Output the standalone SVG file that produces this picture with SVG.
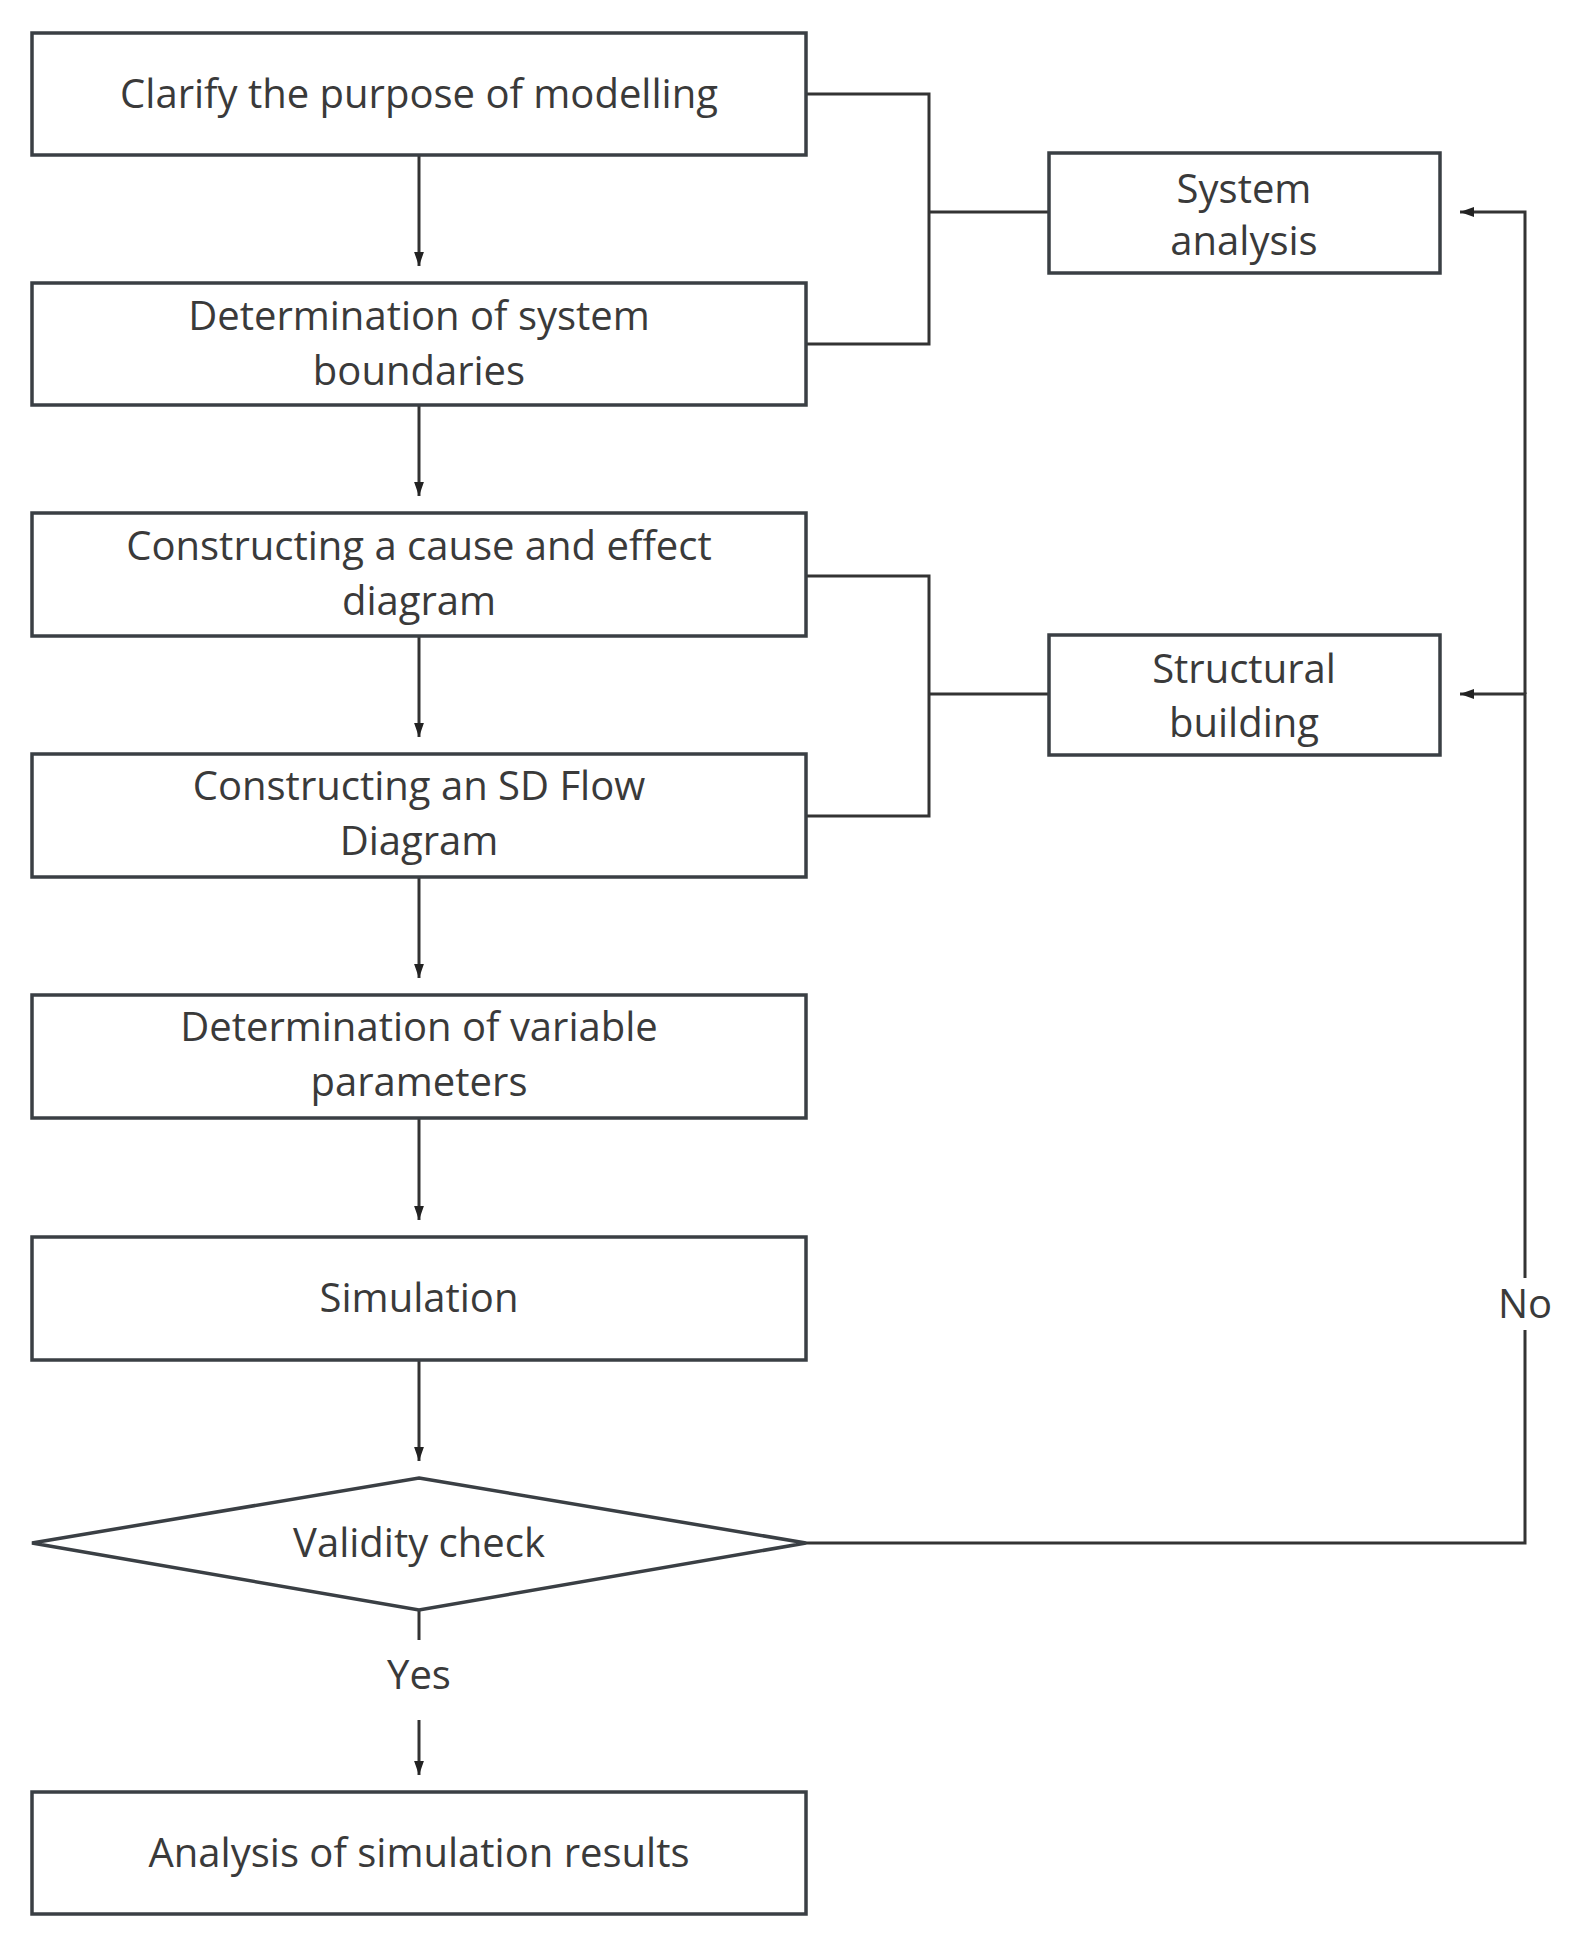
<svg xmlns="http://www.w3.org/2000/svg" width="1571" height="1939" viewBox="0 0 1571 1939">
<style>
.b{fill:#fff;stroke:#3a3f44;stroke-width:3.5}
.t{font-family:"Open Sans",sans-serif;font-size:40px;fill:#3a3a3a;text-anchor:middle}
.c{fill:none;stroke:#333;stroke-width:3}
</style>
<defs><marker id="a" viewBox="0 0 10 10" refX="10" refY="5" markerWidth="7" markerHeight="7" markerUnits="userSpaceOnUse" orient="auto"><path d="M0,0L10,5L0,10z" fill="#222"/></marker>
<marker id="m" viewBox="0 0 10 10" refX="10" refY="5" markerWidth="14" markerHeight="14" markerUnits="userSpaceOnUse" orient="auto"><path d="M0,1.5L10,5L0,8.5z" fill="#222"/></marker></defs>
<rect width="1571" height="1939" fill="#fff"/>
<g id="connectors">
<path class="c" d="M419 155V266" marker-end="url(#m)"/>
<path class="c" d="M419 405V496" marker-end="url(#m)"/>
<path class="c" d="M419 636V737" marker-end="url(#m)"/>
<path class="c" d="M419 877V978" marker-end="url(#m)"/>
<path class="c" d="M419 1118V1220" marker-end="url(#m)"/>
<path class="c" d="M419 1360V1461" marker-end="url(#m)"/>
<path class="c" d="M419 1610V1640"/>
<path class="c" d="M419 1720V1775" marker-end="url(#m)"/>
<path class="c" d="M806 94H929V344H806M929 212H1049"/>
<path class="c" d="M806 576H929V816H806M929 694H1049"/>
<path class="c" d="M806 1543H1525V1330M1525 1278V694H1460" marker-end="url(#m)"/>
<path class="c" d="M1525 694V212H1460" marker-end="url(#m)"/>
<text class="t" x="1525" y="1318">No</text>
<text class="t" x="419" y="1689">Yes</text>
</g>
<g id="n1"><rect class="b" x="32" y="33" width="774" height="122"/><text class="t" x="419" y="108">Clarify the purpose of modelling</text></g>
<g id="n2"><rect class="b" x="32" y="283" width="774" height="122"/><text class="t" x="419" y="330">Determination of system</text><text class="t" x="419" y="385">boundaries</text></g>
<g id="n3"><rect class="b" x="32" y="513" width="774" height="123"/><text class="t" x="419" y="560">Constructing a cause and effect</text><text class="t" x="419" y="615">diagram</text></g>
<g id="n4"><rect class="b" x="32" y="754" width="774" height="123"/><text class="t" x="419" y="800">Constructing an SD Flow</text><text class="t" x="419" y="855">Diagram</text></g>
<g id="n5"><rect class="b" x="32" y="995" width="774" height="123"/><text class="t" x="419" y="1041">Determination of variable</text><text class="t" x="419" y="1096">parameters</text></g>
<g id="n6"><rect class="b" x="32" y="1237" width="774" height="123"/><text class="t" x="419" y="1312">Simulation</text></g>
<g id="n7"><path class="b" d="M419 1478L806 1543L419 1610L32 1543Z"/><text class="t" x="419" y="1557">Validity check</text></g>
<g id="n8"><rect class="b" x="32" y="1792" width="774" height="122"/><text class="t" x="419" y="1867">Analysis of simulation results</text></g>
<g id="s1"><rect class="b" x="1049" y="153" width="391" height="120"/><text class="t" x="1244" y="203">System</text><text class="t" x="1244" y="255">analysis</text></g>
<g id="s2"><rect class="b" x="1049" y="635" width="391" height="120"/><text class="t" x="1244" y="683">Structural</text><text class="t" x="1244" y="737">building</text></g>
</svg>
